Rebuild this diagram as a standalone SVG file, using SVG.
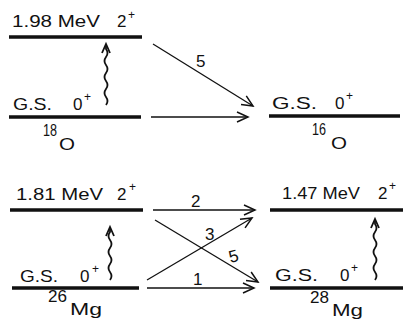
<svg xmlns="http://www.w3.org/2000/svg" width="403" height="329" viewBox="0 0 403 329">
<style>
text{font-family:"Liberation Sans",Arial,sans-serif;fill:#111}
.lvl{stroke:#111;stroke-width:3.5;fill:none}
.big{font-size:17px}
.sup{font-size:12px}
.lab{font-size:17px}
.conn{stroke:#111;stroke-width:1.3;fill:none;marker-end:url(#ah)}
.wave{stroke:#111;stroke-width:1.8;fill:none;marker-end:url(#wh)}
</style>
<defs>
<marker id="ah" markerUnits="userSpaceOnUse" markerWidth="14" markerHeight="14" viewBox="-1 -1 14 14" refX="11" refY="5" orient="auto" overflow="visible">
<path d="M0,0 L11,5 L0,10" fill="none" stroke="#111" stroke-width="1.5"/>
</marker>
<marker id="wh" markerUnits="userSpaceOnUse" markerWidth="12" markerHeight="12" viewBox="-1 -1 12 12" refX="9" refY="4" orient="auto" overflow="visible">
<path d="M0,0 L9,4 L0,8" fill="none" stroke="#111" stroke-width="1.8"/>
</marker>
</defs>
<g id="O18">
<line class="lvl" x1="9" y1="37" x2="142" y2="37"/>
<line class="lvl" x1="9" y1="117" x2="141" y2="117"/>
<text class="big" x="12" y="27" textLength="88" lengthAdjust="spacingAndGlyphs">1.98 MeV</text>
<text class="big" x="117" y="27">2</text><text class="sup" x="128" y="19">+</text>
<text class="big" x="13" y="110" textLength="39" lengthAdjust="spacingAndGlyphs">G.S.</text>
<text class="big" x="73" y="110">0</text><text class="sup" x="84" y="101">+</text>
<text class="big" x="43" y="136" textLength="14" lengthAdjust="spacingAndGlyphs">18</text><text class="big" x="59" y="150" textLength="16" lengthAdjust="spacingAndGlyphs">O</text>
<path class="wave" d="M106,105 q3,-4 0,-8 t0,-8 t0,-8 t0,-8 t0,-8 t0,-8 t0,-8 l0,-5"/>
</g>
<g id="O16">
<line class="lvl" x1="269" y1="116" x2="400" y2="116"/>
<text class="big" x="272" y="109" textLength="45" lengthAdjust="spacingAndGlyphs">G.S.</text>
<text class="big" x="335" y="109">0</text><text class="sup" x="346" y="100">+</text>
<text class="big" x="312" y="135" textLength="14" lengthAdjust="spacingAndGlyphs">16</text><text class="big" x="331" y="149" textLength="16" lengthAdjust="spacingAndGlyphs">O</text>
</g>
<g id="Mg26">
<line class="lvl" x1="10" y1="210" x2="143" y2="210"/>
<line class="lvl" x1="12" y1="288" x2="139" y2="288"/>
<text class="big" x="16" y="200" textLength="87" lengthAdjust="spacingAndGlyphs">1.81 MeV</text>
<text class="big" x="117" y="200">2</text><text class="sup" x="129" y="191">+</text>
<text class="big" x="20" y="282" textLength="38" lengthAdjust="spacingAndGlyphs">G.S.</text>
<text class="big" x="80" y="282">0</text><text class="sup" x="92" y="273">+</text>
<text class="big" x="48" y="302" textLength="19" lengthAdjust="spacingAndGlyphs">26</text>
<text class="big" x="70" y="315" textLength="32" lengthAdjust="spacingAndGlyphs">Mg</text>
<path class="wave" d="M110,280 q3,-4 0,-8 t0,-8 t0,-8 t0,-8 t0,-8 t0,-8 l0,-5"/>
</g>
<g id="Mg28">
<line class="lvl" x1="270" y1="210" x2="403" y2="210"/>
<line class="lvl" x1="270" y1="288" x2="403" y2="288"/>
<text class="big" x="282" y="199" textLength="78" lengthAdjust="spacingAndGlyphs">1.47 MeV</text>
<text class="big" x="378" y="199">2</text><text class="sup" x="389" y="190">+</text>
<text class="big" x="275" y="281" textLength="43" lengthAdjust="spacingAndGlyphs">G.S.</text>
<text class="big" x="340" y="281">0</text><text class="sup" x="351" y="272">+</text>
<text class="big" x="310" y="303" textLength="19" lengthAdjust="spacingAndGlyphs">28</text>
<text class="big" x="332" y="316" textLength="31" lengthAdjust="spacingAndGlyphs">Mg</text>
<path class="wave" d="M375,280 q3,-4 0,-8 t0,-8 t0,-8 t0,-8 t0,-8 t0,-8 t0,-8 l0,-5"/>
</g>
<g id="connectors">
<path class="conn" d="M151,117 L248,117"/>
<path class="conn" d="M153,44 L253,106"/>
<path class="conn" d="M153,210 L255,210"/>
<path class="conn" d="M147,288 L254,288"/>
<path class="conn" d="M155,220 L258,282"/>
<path class="conn" d="M147,280 L252,218"/>
<text class="lab" x="196" y="67">5</text>
<text class="lab" x="191" y="207">2</text>
<text class="lab" x="205" y="240">3</text>
<text class="lab" x="229" y="262" transform="rotate(-15 234 257)">5</text>
<text class="lab" x="193" y="285">1</text>
</g>
</svg>
